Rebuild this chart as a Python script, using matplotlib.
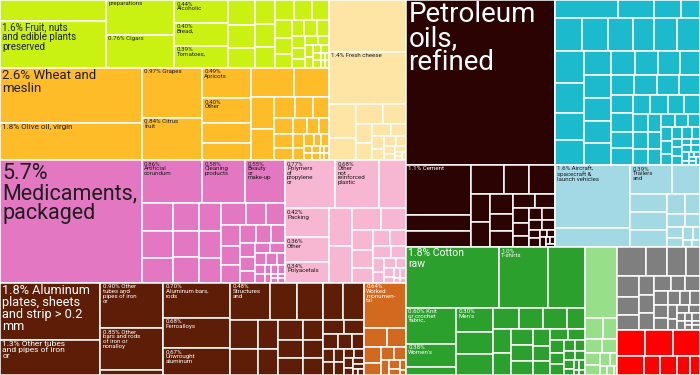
import matplotlib
matplotlib.use("Agg")
import matplotlib.pyplot as plt
from matplotlib.patches import Rectangle
from matplotlib import font_manager

# ---- data: shares of exports (percent) ----
group_names = ["Foodstuffs", "Vegetable products", "Animal products", "Chemicals",
               "Plastics", "Metals", "Stone", "Mineral products", "Machines",
               "Transportation", "Textiles", "Footwear", "Instruments", "Weapons"]
group_share = [7.43, 10.06, 4.11, 11.64, 4.96, 11.13, 1.29,
               12.27, 7.98, 3.96, 7.62, 1.35, 2.27, 1.25]

food_vals = [0.74, 1.65, 0.79, 0.75, 0.41, 0.41, 0.40]
food_text = ["", "1.6% Fruit, nuts\nand edible plants\npreserved", "preparations",
             "0.76% Cigars", "0.44%\nAlcoholic", "0.40%\nBread,", "0.39%\nTomatoes,"]
food_small = [0.22, 0.2, 0.18, 0.16, 0.15, 0.14, 0.13, 0.12, 0.11, 0.1, 0.09, 0.08,
              0.07, 0.07, 0.06, 0.05, 0.05, 0.04, 0.04, 0.03, 0.03, 0.03, 0.02, 0.02,
              0.02, 0.02, 0.01, 0.01, 0.01, 0.01]

veg_vals = [2.60, 1.75, 1.0, 0.84, 0.49, 0.40, 0.33, 0.28]
veg_text = ["2.6% Wheat and\nmeslin", "1.8% Olive oil, virgin", "0.97% Grapes",
            "0.84% Citrus\nfruit", "0.49%\nApricots", "0.40%\nOther", "", ""]
veg_small = [0.42, 0.33, 0.25, 0.24, 0.15, 0.13, 0.11, 0.1, 0.09, 0.08, 0.07, 0.06,
             0.05, 0.05, 0.04, 0.04, 0.03, 0.03, 0.02, 0.02, 0.02, 0.02, 0.01, 0.01,
             0.01, 0.01]

animal_vals = [1.3, 1.33]
animal_text = ["", "1.4% Fresh cheese"]
animal_small = [0.3, 0.2, 0.17, 0.14, 0.1, 0.09, 0.08, 0.06, 0.05, 0.04, 0.04, 0.03,
                0.03, 0.02, 0.02, 0.01, 0.01, 0.01]

chem_vals = [5.78, 0.86, 0.60, 0.56]
chem_text = ["5.7%\nMedicaments,\npackaged", "0.86%\nArtificial\ncorundum",
             "0.58%\nCleaning\nproducts", "0.55%\nBeauty\nor\nmake-up"]
chem_small = [0.3, 0.28, 0.26, 0.24, 0.23, 0.22, 0.21, 0.2, 0.19, 0.18, 0.15, 0.14,
              0.13, 0.12, 0.11, 0.1, 0.09, 0.08, 0.07, 0.07, 0.06, 0.05, 0.05, 0.04,
              0.04, 0.03, 0.03, 0.03, 0.02, 0.02, 0.02, 0.02, 0.01, 0.01, 0.01, 0.01]

plast_vals = [0.80, 0.69, 0.43, 0.42, 0.36, 0.30]
plast_text = ["0.77%\nPolymers\nof\npropylene\nor", "0.68%\nOther\nnot\nreinforced\nplastic",
              "", "0.42%\nPacking", "0.36%\nOther", "0.34%\nPolyacetals"]
plast_small = [0.29, 0.28, 0.2, 0.17, 0.14, 0.12, 0.1, 0.09, 0.08, 0.07, 0.06, 0.05,
               0.04, 0.04, 0.03, 0.03, 0.02, 0.02, 0.02, 0.01, 0.01]

metal_vals = [1.9, 1.17, 0.95, 0.88, 0.1, 0.78, 0.67, 0.6, 0.49, 0.33, 0.32, 0.25, 0.25]
metal_text = ["1.8% Aluminum\nplates, sheets\nand strip > 0.2\nmm",
              "1.3% Other tubes\nand pipes of iron\nor",
              "0.90% Other\ntubes and\npipes of iron\nor",
              "0.85% Other\nbars and rods\nof iron or\nnonalloy", "",
              "0.70%\nAluminum bars,\nrods", "0.68%\nFerroalloys",
              "0.67%\nUnwrought\naluminum", "0.48%\nStructures\nand", "", "", "", ""]
metal_small = [0.26, 0.24, 0.2, 0.18, 0.16, 0.15, 0.14, 0.13, 0.12, 0.11, 0.1, 0.09,
               0.08, 0.07, 0.06, 0.05, 0.05, 0.04, 0.04, 0.03, 0.03, 0.03, 0.02, 0.02,
               0.02, 0.01, 0.01]

stone_vals = [0.63]
stone_text = ["0.64%\nWorked\nmonumen-\ntal"]
stone_small = [0.15, 0.12, 0.09, 0.07, 0.06, 0.05, 0.04, 0.03, 0.02, 0.02, 0.01]

mineral_vals = [8.1, 1.08, 0.35, 0.35]
mineral_text = ["Petroleum\noils,\nrefined", "1.1% Cement", "", ""]
mineral_row = [0.32, 0.25, 0.25]
mineral_small = [0.18, 0.16, 0.15, 0.13, 0.12, 0.1, 0.09, 0.08, 0.07, 0.06, 0.05, 0.05,
                 0.04, 0.04, 0.03, 0.03, 0.02, 0.02, 0.02, 0.01, 0.01, 0.01]

machine_row1 = [0.37, 0.21, 0.16, 0.11]
machine_row2 = [0.3, 0.29, 0.28, 0.23, 0.26, 0.25]
machine_small = [0.3, 0.28, 0.26, 0.24, 0.22, 0.21, 0.21, 0.2, 0.2, 0.19, 0.18, 0.17,
                 0.16, 0.15, 0.15, 0.14, 0.14, 0.13, 0.13, 0.12, 0.12, 0.11, 0.11,
                 0.1, 0.1, 0.09, 0.09, 0.08, 0.08, 0.07, 0.07, 0.06, 0.06, 0.05, 0.05,
                 0.05, 0.04, 0.04, 0.04, 0.03, 0.03, 0.03, 0.03, 0.02, 0.02, 0.02,
                 0.02, 0.02, 0.01, 0.01, 0.01, 0.01, 0.01, 0.01]

transport_vals = [1.57, 0.49, 0.39, 0.27, 0.22, 0.22, 0.21]
transport_text = ["1.6% Aircraft,\nspacecraft &\nlaunch vehicles", "",
                  "0.39%\nTrailers\nand", "", "", "", ""]
transport_small = [0.12, 0.1, 0.08, 0.07, 0.06, 0.05, 0.04, 0.03, 0.02, 0.02]

textile_vals = [1.87, 1.0, 0.75, 0.61, 0.38, 0.14, 0.31, 0.28, 0.26]
textile_text = ["1.8% Cotton\nraw", "1.0%\nT-shirts", "", "0.60% Knit\nor crochet\nfabric,",
                "0.38%\nWomen's", "", "0.30%\nMen's", "", ""]
textile_row = [0.18, 0.17, 0.17, 0.13]
textile_small = [0.15, 0.13, 0.12, 0.11, 0.1, 0.1, 0.09, 0.08, 0.07, 0.07, 0.06, 0.05,
                 0.05, 0.04, 0.04, 0.03, 0.03, 0.03, 0.02, 0.02, 0.02, 0.01, 0.01]

foot_big = 0.75
foot_small = [0.12, 0.1, 0.08, 0.07, 0.06, 0.05, 0.04, 0.03, 0.02, 0.02, 0.01]

misc_row = [0.26, 0.19, 0.17, 0.13]
misc_small = [0.14, 0.12, 0.1, 0.09, 0.09, 0.08, 0.08, 0.07, 0.07, 0.06, 0.06, 0.05,
              0.05, 0.04, 0.04, 0.04, 0.03, 0.03, 0.03, 0.02, 0.02, 0.02, 0.02, 0.01,
              0.01, 0.01, 0.01]

red_row1 = [0.24, 0.24, 0.23]
red_row2 = [0.16, 0.1, 0.1, 0.08, 0.06]

# ---- styles ----
group_colors = ["#C9F212", "#FDBC28", "#FFE5A5", "#E377C2", "#F7B6D2", "#5E1D06",
                "#D2691E", "#2C0303", "#1BBACD", "#A2D9E5", "#2CA02C", "#98DF8A",
                "#7F7F7F", "#FF0000"]
dark_text = {0, 1, 2, 3, 4, 9, 11}
# first line of label -> (font size, line spacing, drop from tile top)
label_style = {"Petroleum": (20, 0.88, 0.5), "5.7%": (15.5, 0.95, 3),
               "2.6% Wheat and": (9.5, 1.0, 1.5), "1.8% Aluminum": (9.2, 0.9, 1.5),
               "1.6% Fruit, nuts": (7, 1.0, 1), "1.8% Cotton": (7.5, 1.05, 1),
               "1.3% Other tubes": (6, 0.95, 1), "1.8% Olive oil, virgin": (5.8, 1.0, 1)}

names = {f.name for f in font_manager.fontManager.ttflist}
font = "Liberation Sans Narrow" if "Liberation Sans Narrow" in names else "Roboto"


def lab(vals, text, a, b):
    return [(v, t) for v, t in zip(vals[a:b], text[a:b])]


group_tree = [
    ("h", [("v", lab(food_vals, food_text, 0, 2)), ("v", lab(food_vals, food_text, 2, 4)),
           ("v", lab(food_vals, food_text, 4, 7)), ("sq", food_small)]),
    ("h", [("v", lab(veg_vals, veg_text, 0, 2)), ("v", lab(veg_vals, veg_text, 2, 4)),
           ("v", lab(veg_vals, veg_text, 4, 8)), ("sq", veg_small)]),
    ("v", lab(animal_vals, animal_text, 0, 2) + [("sq", animal_small)]),
    ("h", [lab(chem_vals, chem_text, 0, 1)[0],
           ("v", [("h", lab(chem_vals, chem_text, 1, 4)), ("sq", chem_small)])]),
    ("v", [("h", lab(plast_vals, plast_text, 0, 3)),
           ("h", [("v", lab(plast_vals, plast_text, 3, 6)), ("sq", plast_small)])]),
    ("h", [("v", lab(metal_vals, metal_text, 0, 2)), ("v", lab(metal_vals, metal_text, 2, 5)),
           ("v", lab(metal_vals, metal_text, 5, 8)),
           ("v", [("h", lab(metal_vals, metal_text, 8, 13)), ("sq", metal_small)])]),
    ("v", [lab(stone_vals, stone_text, 0, 1)[0], ("sq", stone_small)]),
    ("v", [lab(mineral_vals, mineral_text, 0, 1)[0],
           ("h", [("v", lab(mineral_vals, mineral_text, 1, 4)),
                  ("v", [("h", mineral_row), ("sq", mineral_small)])])]),
    ("v", [("h", machine_row1), ("h", machine_row2), ("sq", machine_small)]),
    ("h", [("v", lab(transport_vals, transport_text, 0, 2)),
           ("v", [("h", lab(transport_vals, transport_text, 2, 4)),
                  ("h", [("v", lab(transport_vals, transport_text, 4, 7)),
                         ("sq", transport_small)])])]),
    ("v", [("h", lab(textile_vals, textile_text, 0, 3)),
           ("h", [("v", lab(textile_vals, textile_text, 3, 6)),
                  ("v", lab(textile_vals, textile_text, 6, 9)),
                  ("v", [("h", textile_row), ("sq", textile_small)])])]),
    ("v", [foot_big, ("sq", foot_small)]),
    ("v", [("h", misc_row), ("sq", misc_small)]),
    ("v", [("h", red_row1), ("h", red_row2)]),
]

top_tree = ("h", [
    ("v", [("h", [("v", [("g", 0), ("g", 1)]), ("g", 2)]),
           ("h", [("g", 3), ("g", 4)]),
           ("h", [("g", 5), ("g", 6)])]),
    ("v", [("h", [("g", 7), ("v", [("g", 8), ("g", 9)])]),
           ("h", [("g", 10), ("g", 11), ("v", [("g", 12), ("g", 13)])])]),
])


def size(n):
    if not isinstance(n, tuple):
        return n
    if n[0] == "g":
        return group_share[n[1]]
    if n[0] == "sq":
        return sum(n[1])
    if n[0] in ("h", "v"):
        return sum(size(k) for k in n[1])
    return n[0]


def worst(row, side):
    s = sum(row)
    return max(max(side * side * r / (s * s), s * s / (side * side * r)) for r in row)


def squarify(vals, x, y, w, h):
    tot = sum(vals)
    areas = [v * w * h / tot for v in sorted(vals, reverse=True)]
    rects = []
    i = 0
    while i < len(areas):
        side = min(w, h)
        row = [areas[i]]
        j = i + 1
        while j < len(areas) and worst(row + [areas[j]], side) <= worst(row, side):
            row.append(areas[j])
            j += 1
        s = sum(row)
        if w >= h:
            cw = s / h
            yy = y
            for a in row:
                rects.append((x, yy, cw, a / cw))
                yy += a / cw
            x += cw
            w -= cw
        else:
            rh = s / w
            xx = x
            for a in row:
                rects.append((xx, y, a / rh, rh))
                xx += a / rh
            y += rh
            h -= rh
        i = j
    return rects


def place(n, x, y, w, h, g, out):
    if not isinstance(n, tuple):
        out.append((x, y, w, h, g, ""))
    elif n[0] == "g":
        place(group_tree[n[1]], x, y, w, h, n[1], out)
    elif n[0] == "sq":
        for r in squarify(n[1], x, y, w, h):
            out.append(r + (g, ""))
    elif n[0] in ("h", "v"):
        tot = sum(size(k) for k in n[1])
        for k in n[1]:
            f = size(k) / tot
            if n[0] == "h":
                place(k, x, y, w * f, h, g, out)
                x += w * f
            else:
                place(k, x, y, w, h * f, g, out)
                y += h * f
    else:
        out.append((x, y, w, h, g, n[1]))


W, H = 700, 375
tiles = []
place(top_tree, 0, 0, W, H, None, tiles)

fig = plt.figure(figsize=(7, 3.75), dpi=100)
ax = fig.add_axes([0, 0, 1, 1])
ax.set_xlim(0, W)
ax.set_ylim(H, 0)
ax.axis("off")

for x, y, w, h, g, t in tiles:
    r = Rectangle((x, y), w, h, facecolor=group_colors[g], edgecolor="white", lw=1.1)
    ax.add_patch(r)
    if t:
        fs, ls, dy = label_style.get(t.split("\n")[0], (4.4, 0.9, 1.5))
        col = "#1e1e1e" if g in dark_text else "white"
        txt = ax.text(x + 2.5, y + dy, t, fontsize=fs, linespacing=ls, color=col,
                      family=[font, "DejaVu Sans"], va="top", ha="left")
        txt.set_clip_path(r)

fig.savefig("out.png", dpi=100)
